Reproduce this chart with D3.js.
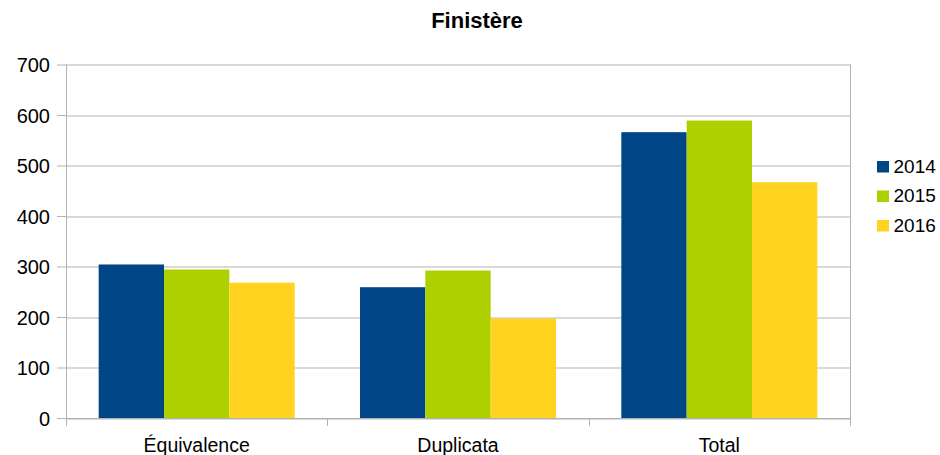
<!DOCTYPE html>
<html>
<head>
<meta charset="utf-8">
<script src="https://cdn.jsdelivr.net/npm/d3@7"></script>
<style>
  body { margin: 0; background: #fff; }
  svg text { font-family: "Liberation Sans", Arial, sans-serif; fill: #000; }
</style>
</head>
<body>
<div id="chart"></div>
<script>
var categories = ["Équivalence", "Duplicata", "Total"];
var years = ["2014", "2015", "2016"];
var values2014 = [304, 259, 566];
var values2015 = [294, 292, 589];
var values2016 = [268, 197, 467];
var yTicks = [0, 100, 200, 300, 400, 500, 600, 700];
var colors = ["#004586", "#aecf00", "#ffd320"];

var series = [values2014, values2015, values2016];

var W = 940, H = 455;
var margin = {top: 64.5, right: 90, bottom: 37, left: 66};
var width = 850 - margin.left,
    height = 418 - margin.top;

var svg = d3.select("#chart")
  .append("svg")
    .attr("width", W)
    .attr("height", H);

svg.append("text")
  .attr("x", 477)
  .attr("y", 28)
  .attr("text-anchor", "middle")
  .style("font-size", "22px")
  .style("font-weight", "bold")
  .text("Finistère");

var g = svg.append("g")
  .attr("transform", "translate(" + margin.left + "," + margin.top + ")");

var x0 = d3.scaleBand()
  .domain(categories)
  .range([0, width])
  .paddingInner(0.25)
  .paddingOuter(0.125);

var xCat = d3.scaleBand()
  .domain(categories)
  .range([0, width]);

var x1 = d3.scaleBand()
  .domain(years)
  .range([0, x0.bandwidth()]);

var y = d3.scaleLinear()
  .domain([0, 700])
  .range([height, 0]);

// grid
g.append("g")
  .selectAll("line")
  .data(yTicks)
  .enter().append("line")
    .attr("x1", 0)
    .attr("x2", width)
    .attr("y1", function(d) { return Math.round(y(d)) + 0.5; })
    .attr("y2", function(d) { return Math.round(y(d)) + 0.5; })
    .attr("stroke", "#b3b3b3")
    .attr("stroke-width", 1);

// right border of plot
g.append("line")
  .attr("x1", width + 0.5).attr("x2", width + 0.5)
  .attr("y1", 0).attr("y2", height)
  .attr("stroke", "#b3b3b3");

// bars
var groups = g.selectAll(".grp")
  .data(categories)
  .enter().append("g")
    .attr("class", "grp")
    .attr("transform", function(d) { return "translate(" + x0(d) + ",0)"; });

groups.selectAll("rect")
  .data(function(d, i) {
    return years.map(function(yr, j) { return {year: yr, value: series[j][i], idx: j}; });
  })
  .enter().append("rect")
    .attr("x", function(d) { return x1(d.year); })
    .attr("y", function(d) { return y(d.value); })
    .attr("width", x1.bandwidth())
    .attr("height", function(d) { return height - y(d.value); })
    .attr("fill", function(d) { return colors[d.idx]; });

// y axis
var yAxis = g.append("g")
  .call(d3.axisLeft(y).tickValues(yTicks).tickSize(9).tickPadding(7));
yAxis.select(".domain").attr("stroke", "#b3b3b3").attr("d", "M0.5,0V" + height);
yAxis.selectAll(".tick line").attr("stroke", "#b3b3b3");
yAxis.selectAll("text").style("font-size", "20px").attr("dy", "0.35em");

// x axis with ticks at category boundaries
var xAxis = g.append("g")
  .attr("transform", "translate(0," + height + ")");
xAxis.append("line")
  .attr("x1", 0).attr("x2", width)
  .attr("y1", 0.5).attr("y2", 0.5)
  .attr("stroke", "#b3b3b3");
var bounds = categories.map(function(c) { return xCat(c); }).concat([width]);
xAxis.selectAll(".xt")
  .data(bounds)
  .enter().append("line")
    .attr("x1", function(d) { return Math.round(d) + 0.5; })
    .attr("x2", function(d) { return Math.round(d) + 0.5; })
    .attr("y1", 0).attr("y2", 8)
    .attr("stroke", "#b3b3b3");
xAxis.selectAll(".xl")
  .data(categories)
  .enter().append("text")
    .attr("x", function(d) { return xCat(d) + xCat.bandwidth() / 2; })
    .attr("y", 33.5)
    .attr("text-anchor", "middle")
    .style("font-size", "19.5px")
    .text(function(d) { return d; });

// legend
var legend = svg.append("g")
  .attr("transform", "translate(877,161)");
var items = legend.selectAll("g")
  .data(years)
  .enter().append("g")
    .attr("transform", function(d, i) { return "translate(0," + (i * 29.5) + ")"; });
items.append("rect")
  .attr("width", 12).attr("height", 11.5)
  .attr("fill", function(d, i) { return colors[i]; });
items.append("text")
  .attr("x", 16.5)
  .attr("y", 11.5)
  .style("font-size", "19px")
  .text(function(d) { return d; });
</script>
</body>
</html>
